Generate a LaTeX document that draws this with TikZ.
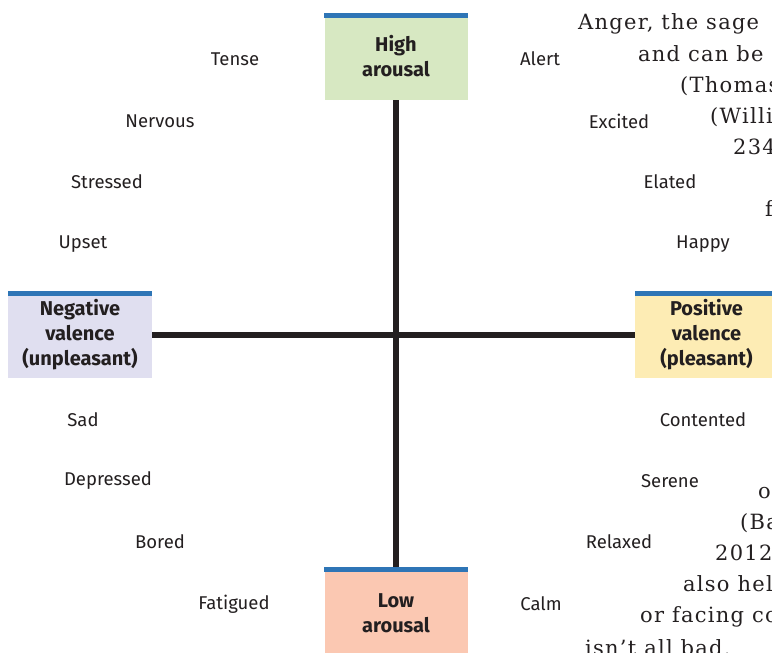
\documentclass[tikz,border=0pt]{standalone}
\usepackage{fontspec}
\setmainfont{Fira Sans}
\newfontfamily\bookfont[LetterSpace=6]{DejaVu Serif}
\usetikzlibrary{positioning}
\definecolor{inkgray}{HTML}{231F20}
\definecolor{barblue}{HTML}{2E75B6}
\definecolor{highgreen}{HTML}{D7E8C2}
\definecolor{lowsalmon}{HTML}{FBC8B2}
\definecolor{neglilac}{HTML}{E0DFF0}
\definecolor{posyellow}{HTML}{FDECB4}
\tikzset{
  pole/.style={rectangle, minimum width=143pt, minimum height=87pt, inner sep=0pt, align=center,
    font=\fontsize{20}{25}\selectfont\bfseries, text=inkgray},
  mood/.style={font=\fontsize{18.5}{22}\selectfont, text=inkgray},
  axisline/.style={line width=6pt, inkgray},
  bookline/.style={anchor=base west, inner sep=0pt, font=\bookfont\fontsize{21}{31}\selectfont, text=inkgray}
}

\begin{document}
\begin{tikzpicture}[x=1pt,y=-1pt]
    \clip (0,0) rectangle (772,653);

    % poles
    \node[pole, fill=highgreen] (high) at (396,56.5) {High\\arousal};
    \node[pole, fill=lowsalmon, minimum height=92pt] (low) at (396,613) {Low\\arousal};
    \node[pole, fill=neglilac, minimum width=144pt] (neg) at (80,334.5) {Negative\\valence\\(unpleasant)};
    \node[pole, fill=posyellow] (pos) at (706.5,334.5) {Positive\\valence\\(pleasant)};

    % blue bars
    \foreach \n in {high, low, neg, pos}
        \fill[barblue] (\n.north west) rectangle ++(144,5.5);

    % axes
    \draw[axisline] (high.south) -- (low.north);
    \draw[axisline] (neg.east) -- (pos.west);

    % moods, left side
    \foreach \x/\y/\t/\n in {235/59/Tense/tense, 160/121/Nervous/nervous, 107/182/Stressed/stressed, 83/244/Upset/upset,
                             83/420/Sad/sad, 108/481/Depressed/depressed, 160/542/Bored/bored, 234/604/Fatigued/fatigued}
        \node[mood] (\n) at (\x,\y) {\t};

    % moods, right side
    \foreach \x/\y/\t/\n in {540/59/Alert/alert, 619/121/Excited/excited, 670/182/Elated/elated, 703/244/Happy/happy,
                             703/420/Contented/contented, 670/481/Serene/serene, 619/542/Relaxed/relaxed, 541/604/Calm/calm}
        \node[mood] (\n) at (\x,\y) {\t};

    % running text of the page, cut at the edge
    \foreach \x/\y/\t/\n in {578/30/{Anger, the sage}/bookA, 638/61/{and can be}/bookB, 680/92/{(Thomas}/bookC,
                             710/123/{(Willi}/bookD, 733/154/{234}/bookE, 765/216/{f}/bookF,
                             758/498/{o}/bookG, 740/529/{(Ba}/bookH, 715/560/{2012)}/bookI,
                             683/591/{also hel}/bookJ, 640/622/{or facing co}/bookK, 585/655/{isn’t all bad.}/bookL}
        \node[bookline] (\n) at (\x,\y) {\t};
\end{tikzpicture}
\end{document}
